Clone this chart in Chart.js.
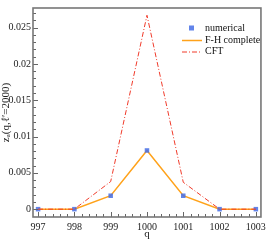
<!DOCTYPE html>
<html>
<head>
<meta charset="utf-8">
<script src="https://cdn.jsdelivr.net/npm/chart.js@4/dist/chart.umd.min.js"></script>
<style>
  html, body { margin: 0; padding: 0; background: #fff; }
  #wrap { width: 270px; height: 241px; }
</style>
</head>
<body>
<div id="wrap"><canvas id="c" width="270" height="241"></canvas></div>
<script>
// q values and series
const qValues = [997, 998, 999, 1000, 1001, 1002, 1003];
const numerical = [0, 0, 0.00185, 0.00808, 0.00185, 0, 0];
const fhComplete = [0, 0, 0.00185, 0.00808, 0.00185, 0, 0];
const cft = [0, 0, 0.0038, 0.0267, 0.0037, 0, 0];

const yTicks = [0, 0.005, 0.01, 0.015, 0.02, 0.025];
const xTicks = [997, 998, 999, 1000, 1001, 1002, 1003];

const serif = '"Liberation Serif", "DejaVu Serif", serif';
const pts = (arr) => qValues.map((q, i) => ({ x: q, y: arr[i] }));

// frame + inward ticks, like the original plot
const framePlugin = {
  id: 'frame',
  afterDraw(chart) {
    const { ctx, chartArea: a, scales } = chart;
    ctx.save();
    ctx.strokeStyle = '#666';
    ctx.lineWidth = 1;
    // minor / major ticks on x
    for (let v = 997; v <= 1003.001; v += 0.2) {
      const px = Math.round(scales.x.getPixelForValue(v)) + 0.5;
      const major = Math.abs(v - Math.round(v)) < 1e-6;
      ctx.beginPath();
      ctx.moveTo(px, a.bottom);
      ctx.lineTo(px, a.bottom - (major ? 5 : 3));
      ctx.stroke();
    }
    // minor / major ticks on y
    for (let v = 0; v <= 0.0275; v += 0.001) {
      const py = Math.round(scales.y.getPixelForValue(v)) + 0.5;
      const major = Math.abs(v / 0.005 - Math.round(v / 0.005)) < 1e-6;
      ctx.beginPath();
      ctx.moveTo(a.left, py);
      ctx.lineTo(a.left + (major ? 5 : 3), py);
      ctx.stroke();
    }
    ctx.strokeStyle = '#777';
    ctx.lineWidth = 1.6;
    ctx.strokeRect(a.left, a.top, a.right - a.left, a.bottom - a.top);

    // legend
    const lx = 182, tx = 205, rows = [28, 40, 51.5];
    ctx.font = '10px ' + serif;
    ctx.fillStyle = '#111';
    ctx.textBaseline = 'middle';
    chart.data.datasets.forEach((ds, i) => {
      const y = rows[i];
      if (ds.showLine === false) {
        ctx.fillStyle = ds.backgroundColor;
        ctx.fillRect(lx + 7, y - 2.5, 5, 5);
      } else {
        ctx.strokeStyle = ds.borderColor;
        ctx.lineWidth = ds.borderWidth;
        ctx.setLineDash(ds.borderDash || []);
        ctx.beginPath();
        ctx.moveTo(lx, y + 0.5);
        ctx.lineTo(lx + 20, y + 0.5);
        ctx.stroke();
        ctx.setLineDash([]);
      }
      ctx.fillStyle = '#111';
      ctx.fillText(ds.label, tx, y);
    });
    ctx.restore();
  }
};

new Chart(document.getElementById('c'), {
  type: 'line',
  data: {
    datasets: [
      {
        label: 'numerical',
        data: pts(numerical),
        showLine: false,
        pointStyle: 'rect',
        pointRadius: 3.2,
        backgroundColor: 'rgba(70,110,230,0.85)',
        borderColor: 'rgba(70,110,230,0.85)',
        borderWidth: 0,
        order: 1,
      },
      {
        label: 'F-H complete',
        data: pts(fhComplete),
        borderColor: '#ffa21a',
        borderWidth: 1.5,
        pointRadius: 0,
        order: 2,
      },
      {
        label: 'CFT',
        data: pts(cft),
        borderColor: '#f03a2a',
        borderWidth: 1,
        borderDash: [5, 2, 1, 2],
        pointRadius: 0,
        order: 0,
      },
    ],
  },
  options: {
    responsive: false,
    animation: false,
    layout: { padding: { top: 4, right: 6, left: 0, bottom: 0 } },
    plugins: { legend: { display: false }, tooltip: { enabled: false } },
    elements: { line: { tension: 0 } },
    scales: {
      x: {
        type: 'linear',
        min: 996.86,
        max: 1003.14,
        grid: { display: false, drawTicks: false },
        border: { display: false },
        afterBuildTicks: (s) => { s.ticks = xTicks.map((v) => ({ value: v })); },
        afterFit: (s) => { s.height = 24; },
        ticks: {
          padding: 4,
          color: '#222',
          font: { family: serif, size: 10 },
          callback: (v) => String(v),
          maxRotation: 0,
        },
        title: { display: true, text: 'q', color: '#222', font: { family: serif, size: 11 }, padding: { top: 0, bottom: 0 } },
      },
      y: {
        type: 'linear',
        min: -0.00108,
        max: 0.0277,
        grid: { display: false, drawTicks: false },
        border: { display: false },
        afterBuildTicks: (s) => { s.ticks = yTicks.map((v) => ({ value: v })); },
        afterFit: (s) => { s.width = 33; },
        ticks: {
          padding: 2,
          color: '#222',
          font: { family: serif, size: 10 },
          callback: (v) => String(v),
        },
        title: { display: true, text: 'zₐ(q,ℓ′=2000)', color: '#222', font: { family: serif, size: 11 }, padding: 0 },
      },
    },
  },
  plugins: [framePlugin],
});
</script>
</body>
</html>
